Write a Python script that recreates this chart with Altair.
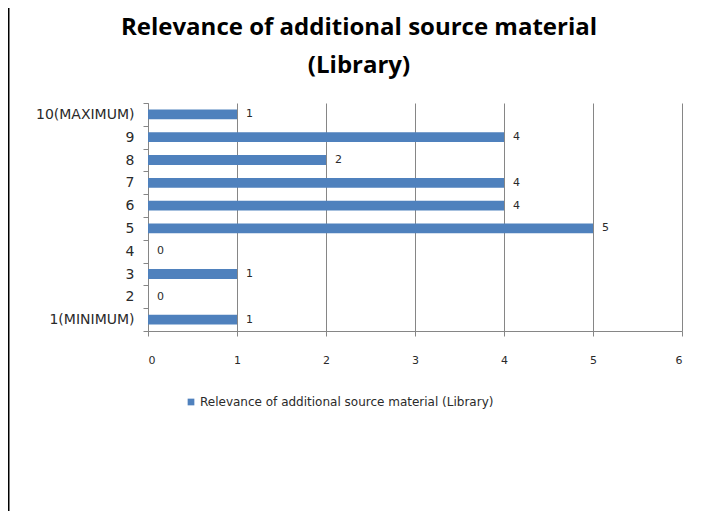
import altair as alt
import pandas as pd

categories = ["1(MINIMUM)", "2", "3", "4", "5", "6", "7", "8", "9", "10(MAXIMUM)"]
values = [1, 0, 1, 0, 5, 4, 4, 2, 4, 1]
series_name = "Relevance of additional source material (Library)"
x_ticks = [0, 1, 2, 3, 4, 5, 6]
title_lines = ["Relevance of additional source material", "(Library)"]

df = pd.DataFrame({"category": categories, "value": values, "series": series_name})
order = categories[::-1]

FONT = "DejaVu Sans"
TFONT = "Open Sans"
GRAY = "#868686"
BLUE = "#4F81BD"
TXT = "#2a2a2a"

y_enc = alt.Y(
    "category:N",
    sort=order,
    scale=alt.Scale(paddingInner=0, paddingOuter=0),
    axis=alt.Axis(
        title=None, tickBand="extent", grid=False, domainColor=GRAY, tickColor=GRAY,
        tickSize=5, labelPadding=9, labelFont=FONT, labelFontSize=14, labelColor=TXT,
    ),
)
x_enc = alt.X(
    "value:Q",
    scale=alt.Scale(domain=[0, 6], nice=False),
    axis=alt.Axis(
        title=None, values=x_ticks, grid=True, gridColor=GRAY, domainColor=GRAY, tickColor=GRAY,
        tickSize=5, labelPadding=18, labelFont=FONT, labelFontSize=11, labelColor=TXT,
        format="d",
    ),
)

bars = alt.Chart(df).mark_bar(height=alt.RelativeBandSize(0.43)).encode(
    y=y_enc,
    x=x_enc,
    color=alt.Color(
        "series:N",
        scale=alt.Scale(domain=[series_name], range=[BLUE]),
        legend=alt.Legend(
            title=None, orient="none", legendX=37, legendY=293, symbolType="square",
            symbolSize=45, symbolStrokeWidth=0, labelFont=FONT, labelFontSize=12,
            labelColor=TXT, labelOffset=3, labelLimit=600,
        ),
    ),
)

labels = alt.Chart(df).mark_text(align="left", dx=9, font=FONT, fontSize=11, color=TXT).encode(
    y=alt.Y("category:N", sort=order),
    x="value:Q",
    text="value:Q",
)

one = pd.DataFrame({"a": [0]})
border = alt.Chart(one).mark_rule(color="black", strokeWidth=2).encode(
    x=alt.value(-139.5), y=alt.value(-103), y2=alt.value(420)
)
title1 = alt.Chart(one).mark_text(
    font=TFONT, fontSize=24, fontWeight="bold", color="#000000", align="center", baseline="middle"
).encode(x=alt.value(211), y=alt.value(-75), text=alt.value(title_lines[0]))
title2 = alt.Chart(one).mark_text(
    font=TFONT, fontSize=24, fontWeight="bold", color="#000000", align="center", baseline="middle"
).encode(x=alt.value(211), y=alt.value(-37), text=alt.value(title_lines[1]))

chart = alt.layer(bars, labels, border, title1, title2).properties(
    width=534,
    height=228,
    padding={"left": 140, "top": 95, "right": 30, "bottom": 180},
    autosize=alt.AutoSizeParams(type="none"),
).configure_view(strokeOpacity=0)

chart.save("out.html", embed_options={"renderer": "svg", "actions": False})
